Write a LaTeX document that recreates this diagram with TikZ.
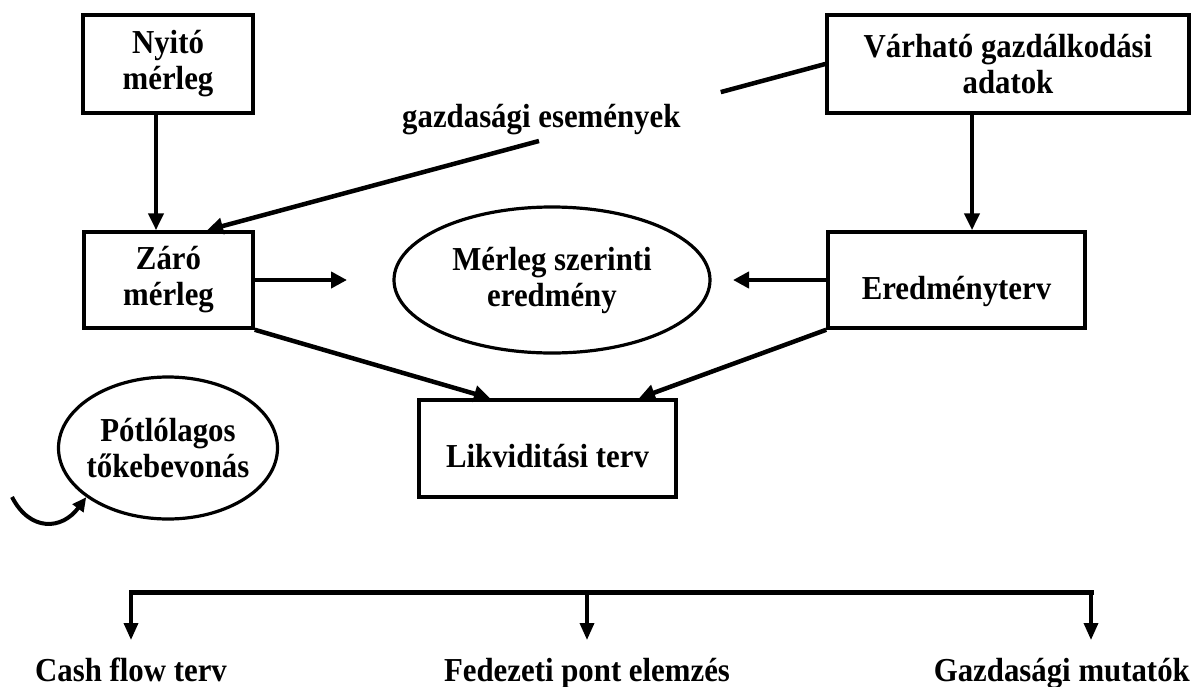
\documentclass[tikz,border=0pt]{standalone}
\usepackage{fontspec}
\setmainfont{Liberation Serif}[FakeStretch=0.92]
\usetikzlibrary{arrows.meta,shapes.geometric,calc}
\begin{document}
\begin{tikzpicture}[x=1pt,y=-1pt,
  txt/.style={font=\bfseries\fontsize{33.5}{36}\selectfont, align=center, inner sep=0pt},
  box/.style={draw, line width=3.5pt, rectangle, inner sep=0pt},
  oval/.style={draw, line width=3.2pt, ellipse, inner sep=0pt},
  arr/.style={line width=4.5pt, -{Triangle[length=16pt,width=16pt]}},
  ln/.style={line width=4.5pt},
  vertarr/.style={line width=4.5pt, -{Triangle[length=17pt,width=15pt]}},
  botarr/.style={line width=3.5pt, -{Triangle[length=17pt,width=14pt]}}
]
\useasboundingbox (0,0) rectangle (1195,686);
% boxes
\node[box,txt,minimum width=170pt,minimum height=98pt] (nyito) at (168,64) {Nyitó\\mérleg};
\node[box,txt,minimum width=169pt,minimum height=96pt] (zaro) at (168.5,280) {Záró\\mérleg};
\node[box,txt,minimum width=362pt,minimum height=98pt] (var) at (1008,64) {Várható gazdálkodási\\adatok};
\node[box,txt,minimum width=257pt,minimum height=96pt,text height=38pt,text depth=0pt] (ered) at (956.5,280) {Eredményterv};
\node[box,txt,minimum width=257pt,minimum height=97pt,text height=37pt,text depth=0pt] (likv) at (547.5,448.5) {Likviditási terv};
% ellipses
\node[oval,minimum width=316pt,minimum height=146pt] (merl) at (552,280) {};
\node[txt] (merltext) at (merl.center) {Mérleg szerinti\\eredmény};
\node[oval,minimum width=219pt,minimum height=142pt] (potl) at (168,448) {};
\node[txt] (potltext) at (potl.center) {Pótlólagos\\tőkebevonás};
% label
\node[txt,anchor=base west] (gazd) at (402,127) {gazdasági események};
% arrows
\draw[vertarr] ([xshift=-12pt]nyito.south) -- ([xshift=-12pt]nyito.south |- zaro.north);
\draw[vertarr] ([xshift=-36pt]var.south) -- ([xshift=-36pt]var.south |- ered.north);
\coordinate (zt) at (347,280);
\coordinate (et) at (733,280);
\draw[arr] (zaro.east) -- (zt);
\draw[arr] (ered.west) -- (et);
\draw[arr] (zaro.south east) -- ([xshift=-57.5pt]likv.north);
\draw[arr] (ered.south west) -- ([xshift=91.5pt]likv.north);
\coordinate (gt) at ([xshift=38.5pt]zaro.north);
\draw[ln] (var.west) -- ($(var.west)!0.169!(gt)$);
\draw[arr] ($(var.west)!0.463!(gt)$) -- (gt);
% curved arrow
\coordinate (cs) at (12,497);
\draw[line width=4pt, -{Triangle[length=14pt,width=13pt]}] (cs) .. controls (30,532) and (62,530) .. (potl.-149);
% bottom bracket
\coordinate (b1) at (131,592);
\coordinate (b2) at (587,592);
\coordinate (b3) at (1091,592);
\coordinate (t1) at (131,640);
\coordinate (t2) at (587,640);
\coordinate (t3) at (1091,640);
\draw[line width=5pt, line cap=rect] (b1) -- (b3);
\draw[botarr] (b1) -- (t1);
\draw[botarr] (b2) -- (t2);
\draw[botarr] (b3) -- (t3);
\node[txt,anchor=base] (cf) at (131,681) {Cash flow terv};
\node[txt,anchor=base] (fed) at (587,681) {Fedezeti pont elemzés};
\node[txt,anchor=base east] (gm) at (1190,681) {Gazdasági mutatók};
\end{tikzpicture}
\end{document}
